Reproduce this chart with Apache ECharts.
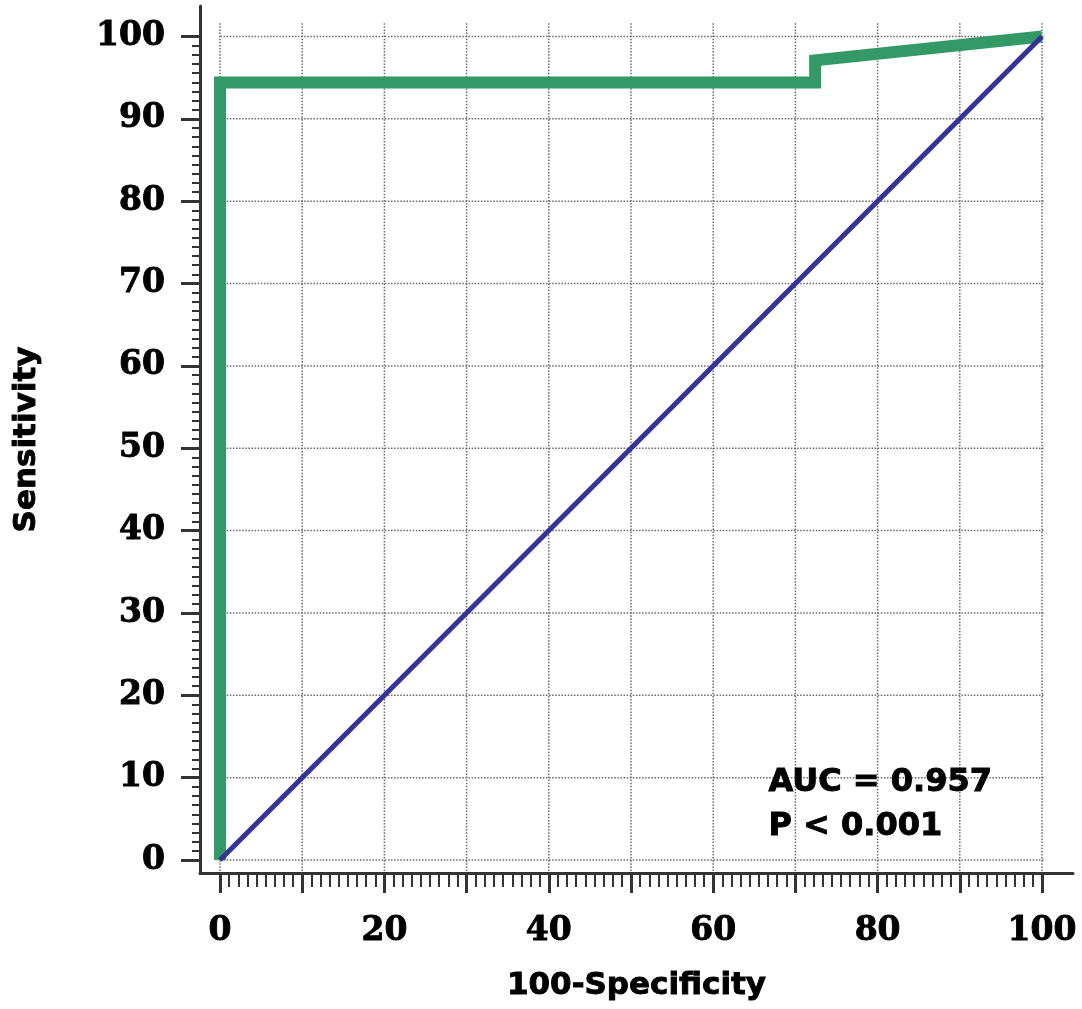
<!DOCTYPE html>
<html><head><meta charset="utf-8">
<script src="https://cdn.jsdelivr.net/npm/echarts@6/dist/echarts.min.js"></script>
<style>html,body{margin:0;padding:0;background:#fff}#c{width:1082px;height:1009px}</style>
</head><body><div id="c"></div>
<script>
// ---- data ----
const xTickValues = [0, 10, 20, 30, 40, 50, 60, 70, 80, 90, 100];
const xLabelValues = [0, 20, 40, 60, 80, 100];
const yTickValues = [0, 10, 20, 30, 40, 50, 60, 70, 80, 90, 100];
const rocX = [0, 0, 72.4, 72.4, 100];
const rocY = [0, 94.4, 94.4, 97.1, 100];
const refX = [0, 100];
const refY = [0, 100];
const annotation = ['AUC = 0.957', 'P < 0.001'];
const xTitle = '100-Specificity';
const yTitle = 'Sensitivity';

const chart = echarts.init(document.getElementById('c'), null, {renderer: 'canvas'});
const AX = '#333333';
const tickFont = {fontFamily: 'DejaVu Serif', fontWeight: 'bold', fontSize: 33, color: '#000',
  textBorderColor: '#000', textBorderWidth: 0.9};
const titleFont = {fontFamily: 'DejaVu Sans', fontWeight: 'bold', fontSize: 31, color: '#000',
  textBorderColor: '#000', textBorderWidth: 0.9};

const baseOption = {
  animation: false,
  backgroundColor: '#fff',
  grid: [
    {left: 220, right: 40, top: 36.5, bottom: 149},
    {left: 200, right: 9, top: 6, bottom: 136}
  ],
  xAxis: [
    {gridIndex: 0, type: 'value', min: 0, max: 100, interval: 10, position: 'bottom', offset: 13,
      axisLine: {show: false, onZero: false},
      axisTick: {show: true, inside: false, length: 20, lineStyle: {color: AX, width: 3}},
      minorTick: {show: true, splitNumber: 9, length: 14, lineStyle: {color: AX, width: 2}},
      axisLabel: Object.assign({margin: 42, formatter: v => xLabelValues.indexOf(v) >= 0 ? String(v) : ''}, tickFont),
      splitLine: {show: false}, minorSplitLine: {show: false}},
    {gridIndex: 1, type: 'value', min: 0, max: 1, position: 'bottom',
      axisLine: {show: true, onZero: false, lineStyle: {color: AX, width: 3}},
      axisTick: {show: false}, axisLabel: {show: false}, splitLine: {show: false},
      name: xTitle, nameLocation: 'middle', nameGap: 97, nameTextStyle: titleFont}
  ],
  yAxis: [
    {gridIndex: 0, type: 'value', min: 0, max: 100, interval: 10, position: 'left', offset: 20,
      axisLine: {show: false, onZero: false},
      axisTick: {show: true, inside: false, length: 19, lineStyle: {color: AX, width: 3}},
      minorTick: {show: true, splitNumber: 9, length: 8, lineStyle: {color: AX, width: 2}},
      axisLabel: Object.assign({margin: 35}, tickFont),
      splitLine: {show: false}, minorSplitLine: {show: false}},
    {gridIndex: 1, type: 'value', min: 0, max: 1, position: 'left',
      axisLine: {show: true, onZero: false, lineStyle: {color: AX, width: 3}},
      axisTick: {show: false}, axisLabel: {show: false}, splitLine: {show: false},
      name: yTitle, nameLocation: 'middle', nameGap: 158, nameRotate: 90, nameTextStyle: titleFont}
  ],
  series: []
};
chart.setOption(baseOption);

// gridline extents (pixels) converted through the axes
const gx0 = chart.convertFromPixel({xAxisIndex: 0}, 205);
const gx1 = chart.convertFromPixel({xAxisIndex: 0}, 1058);
const gy0 = chart.convertFromPixel({yAxisIndex: 0}, 871);
const gy1 = chart.convertFromPixel({yAxisIndex: 0}, 22);

const gridStyle = {color: '#6a6a6a', width: 1.5, type: [1.5, 1.6]};
const series = [];
xTickValues.forEach(v => series.push({type: 'line', xAxisIndex: 0, yAxisIndex: 0, clip: false, silent: true,
  symbol: 'none', z: 1, lineStyle: gridStyle, data: [[v, gy0], [v, gy1]]}));
yTickValues.forEach(v => series.push({type: 'line', xAxisIndex: 0, yAxisIndex: 0, clip: false, silent: true,
  symbol: 'none', z: 1, lineStyle: gridStyle, data: [[gx0, v], [gx1, v]]}));

series.push({type: 'line', name: 'ROC', xAxisIndex: 0, yAxisIndex: 0, clip: false, symbol: 'none', z: 3,
  lineStyle: {color: '#339966', width: 12, join: 'miter', cap: 'butt'},
  data: rocX.map((x, i) => [x, rocY[i]])});
series.push({type: 'line', name: 'Reference', xAxisIndex: 0, yAxisIndex: 0, clip: false, symbol: 'none', z: 4,
  lineStyle: {color: '#333399', width: 5},
  data: refX.map((x, i) => [x, refY[i]])});

chart.setOption({
  series: series,
  graphic: annotation.map((t, i) => ({
    type: 'text', left: 768, top: 766 + i * 44, z: 10,
    style: {text: t, font: 'bold 32px "DejaVu Sans"', fill: '#000', stroke: '#000', lineWidth: 0.9}
  }))
});
</script></body></html>
